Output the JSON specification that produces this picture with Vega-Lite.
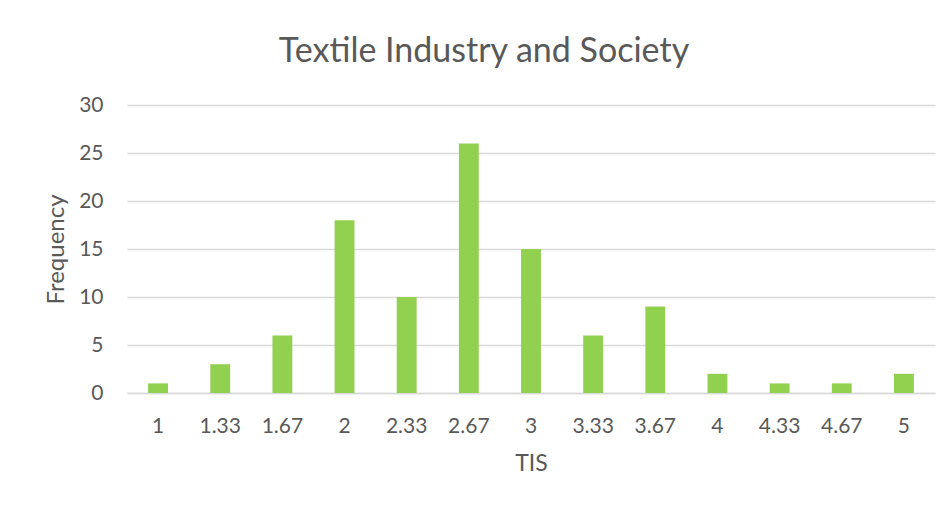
{
  "$schema": "https://vega.github.io/schema/vega-lite/v6.json",
  "width": 808,
  "height": 288,
  "autosize": "none",
  "padding": {"left": 127, "top": 105, "right": 16, "bottom": 115},
  "background": "white",
  "title": {
    "text": "Textile Industry and Society",
    "font": "Lato",
    "fontSize": 34,
    "fontWeight": "normal",
    "color": "#595959",
    "anchor": "middle",
    "frame": "group",
    "dx": -47,
    "offset": 25
  },
  "data": {
    "values": [
      {"TIS": "1", "Frequency": 1},
      {"TIS": "1.33", "Frequency": 3},
      {"TIS": "1.67", "Frequency": 6},
      {"TIS": "2", "Frequency": 18},
      {"TIS": "2.33", "Frequency": 10},
      {"TIS": "2.67", "Frequency": 26},
      {"TIS": "3", "Frequency": 15},
      {"TIS": "3.33", "Frequency": 6},
      {"TIS": "3.67", "Frequency": 9},
      {"TIS": "4", "Frequency": 2},
      {"TIS": "4.33", "Frequency": 1},
      {"TIS": "4.67", "Frequency": 1},
      {"TIS": "5", "Frequency": 2}
    ]
  },
  "mark": {"type": "bar", "color": "#92d050"},
  "encoding": {
    "x": {
      "field": "TIS",
      "type": "ordinal",
      "sort": null,
      "scale": {"paddingInner": 0.68, "paddingOuter": 0.34},
      "axis": {
        "title": "TIS",
        "labelAngle": 0,
        "labelFont": "Lato",
        "labelFontSize": 21,
        "labelColor": "#595959",
        "labelPadding": 22,
        "ticks": false,
        "domainColor": "#d9d9d9",
        "domainWidth": 1.5,
        "titleFont": "Lato",
        "titleFontSize": 23,
        "titleFontWeight": "normal",
        "titleColor": "#595959",
        "titlePadding": 16
      }
    },
    "y": {
      "field": "Frequency",
      "type": "quantitative",
      "scale": {"domain": [0, 30]},
      "axis": {
        "title": "Frequency",
        "values": [0, 5, 10, 15, 20, 25, 30],
        "labelFont": "Lato",
        "labelFontSize": 21,
        "labelColor": "#595959",
        "labelPadding": 24,
        "ticks": false,
        "domain": false,
        "gridColor": "#d9d9d9",
        "gridWidth": 1.5,
        "titleFont": "Lato",
        "titleFontSize": 24,
        "titleFontWeight": "normal",
        "titleColor": "#595959",
        "titlePadding": 10
      }
    }
  },
  "config": {
    "view": {"stroke": null}
  }
}
